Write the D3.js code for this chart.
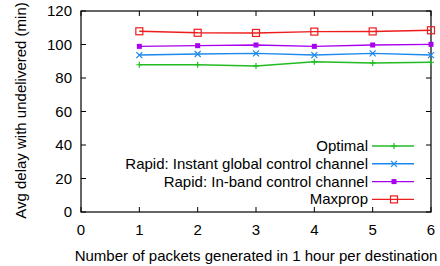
<!DOCTYPE html>
<html>
<head>
  <meta charset="utf-8">
  <script src="https://d3js.org/d3.v7.min.js"></script>
  <style>
    body { margin: 0; background: #fff; }
    text { font-family: "Liberation Sans", Arial, sans-serif; fill: #000; }
    .tick-label { font-size: 15px; }
    .axis-title { font-size: 15px; }
    .legend-label { font-size: 15px; text-anchor: end; }
  </style>
</head>
<body>
  <script>
    var xValues = [1, 2, 3, 4, 5, 6];
    var optimal = [87.9, 87.9, 87.2, 89.7, 89.0, 89.4];
    var rapidInstant = [93.7, 94.3, 94.7, 93.7, 94.7, 93.7];
    var rapidInband = [98.9, 99.3, 99.7, 98.9, 99.7, 100.1];
    var maxprop = [107.9, 107.0, 106.9, 107.7, 107.8, 108.5];
    var xTicks = [0, 1, 2, 3, 4, 5, 6];
    var yTicks = [0, 20, 40, 60, 80, 100, 120];

    var series = [
      { name: "Optimal", values: optimal, color: "#22bb22", marker: "plus" },
      { name: "Rapid: Instant global control channel", values: rapidInstant, color: "#1a88ee", marker: "cross" },
      { name: "Rapid: In-band control channel", values: rapidInband, color: "#a800ee", marker: "fillsq" },
      { name: "Maxprop", values: maxprop, color: "#ee1c1c", marker: "opensq" }
    ];

    var margin = {top: 11, right: 9, bottom: 54, left: 81},
        W = 440, H = 266,
        width = W - margin.left - margin.right,
        height = H - margin.top - margin.bottom;

    var x = d3.scaleLinear().domain([0, 6]).range([0, width]);
    var y = d3.scaleLinear().domain([0, 120]).range([height, 0]);

    var svg = d3.select("body").append("svg")
        .attr("width", W)
        .attr("height", H)
      .append("g")
        .attr("transform", "translate(" + margin.left + "," + margin.top + ")");

    // ticks, mirrored on all four sides
    var tk = 5;
    xTicks.forEach(function(t) {
      svg.append("line").attr("x1", x(t)).attr("x2", x(t)).attr("y1", height).attr("y2", height - tk)
        .attr("stroke", "#000");
      svg.append("line").attr("x1", x(t)).attr("x2", x(t)).attr("y1", 0).attr("y2", tk)
        .attr("stroke", "#000");
      svg.append("text").attr("class", "tick-label")
        .attr("x", x(t)).attr("y", height + 23)
        .attr("text-anchor", "middle").text(t);
    });
    yTicks.forEach(function(t) {
      svg.append("line").attr("x1", 0).attr("x2", tk).attr("y1", y(t)).attr("y2", y(t))
        .attr("stroke", "#000");
      svg.append("line").attr("x1", width).attr("x2", width - tk).attr("y1", y(t)).attr("y2", y(t))
        .attr("stroke", "#000");
      svg.append("text").attr("class", "tick-label")
        .attr("x", -9).attr("y", y(t) + 5)
        .attr("text-anchor", "end").text(t);
    });

    svg.append("rect")
      .attr("width", width).attr("height", height)
      .attr("fill", "none").attr("stroke", "#000").attr("stroke-width", 1.2);

    function drawMarker(g, type, cx, cy, color) {
      if (type === "plus") {
        g.append("path").attr("d", "M" + (cx - 3) + "," + cy + "H" + (cx + 3) + "M" + cx + "," + (cy - 3) + "V" + (cy + 3))
          .attr("stroke", color).attr("stroke-width", 1.2);
      } else if (type === "cross") {
        g.append("path").attr("d", "M" + (cx - 3) + "," + (cy - 3) + "L" + (cx + 3) + "," + (cy + 3) +
          "M" + (cx - 3) + "," + (cy + 3) + "L" + (cx + 3) + "," + (cy - 3))
          .attr("stroke", color).attr("stroke-width", 1.2);
      } else if (type === "fillsq") {
        g.append("rect").attr("x", cx - 2.5).attr("y", cy - 2.5).attr("width", 5).attr("height", 5)
          .attr("fill", color);
      } else {
        g.append("rect").attr("x", cx - 3.5).attr("y", cy - 3.5).attr("width", 7).attr("height", 7)
          .attr("fill", "none").attr("stroke", color).attr("stroke-width", 1.2);
      }
    }

    var line = d3.line().x(function(d, i) { return x(xValues[i]); }).y(function(d) { return y(d); });

    series.forEach(function(s) {
      svg.append("path").datum(s.values)
        .attr("d", line).attr("fill", "none")
        .attr("stroke", s.color).attr("stroke-width", 1.4);
      s.values.forEach(function(v, i) {
        drawMarker(svg, s.marker, x(xValues[i]), y(v), s.color);
      });
    });

    // legend
    var legY0 = 135, legStep = 17.8;
    series.forEach(function(s, i) {
      var ly = legY0 + i * legStep;
      svg.append("text").attr("class", "legend-label")
        .attr("x", 287).attr("y", ly + 5).text(s.name);
      svg.append("line").attr("x1", 291).attr("x2", 333).attr("y1", ly).attr("y2", ly)
        .attr("stroke", s.color).attr("stroke-width", 1.4);
      drawMarker(svg, s.marker, 313, ly, s.color);
    });

    // axis titles
    svg.append("text").attr("class", "axis-title")
      .attr("x", width / 2).attr("y", height + 49)
      .attr("text-anchor", "middle")
      .text("Number of packets generated in 1 hour per destination");

    svg.append("text").attr("class", "axis-title")
      .attr("transform", "rotate(-90)")
      .attr("x", -height / 2 + 1).attr("y", -55)
      .attr("text-anchor", "middle")
      .text("Avg delay with undelivered (min)");
  </script>
</body>
</html>
